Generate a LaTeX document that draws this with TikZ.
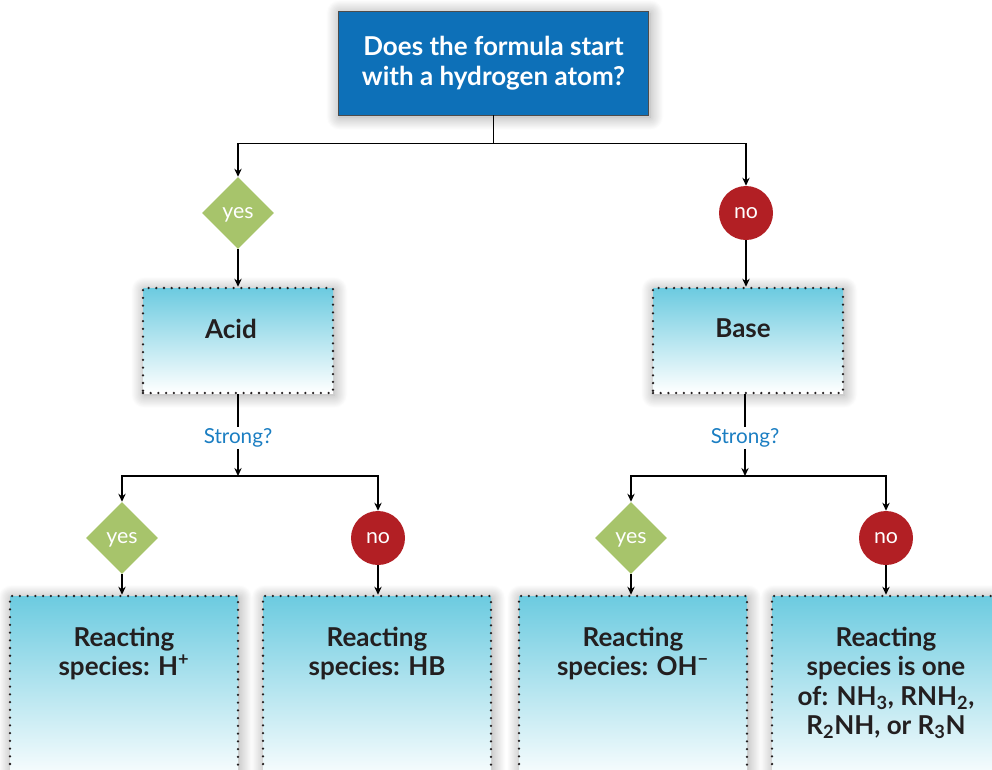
\documentclass[tikz,border=0pt]{standalone}
\usepackage{fontspec}
\setmainfont{Lato}
\usetikzlibrary{shapes, shapes.geometric, arrows.meta, calc, positioning, shadows.blur}
\definecolor{qblue}   {RGB}{ 13,112,184}
\definecolor{yesgreen}{RGB}{167,196,107}
\definecolor{nored}   {RGB}{178, 31, 36}
\definecolor{askblue} {RGB}{ 27,126,194}
\definecolor{boxcyan} {RGB}{108,203,224}
\definecolor{ink}     {RGB}{ 35, 31, 32}

\begin{document}
\begin{tikzpicture}[x=0.75pt, y=-0.75pt,
  soft/.style={blur shadow={shadow xshift=1pt, shadow yshift=-1.5pt,
    shadow blur radius=10pt, shadow blur steps=30, shadow opacity=38}},
  qbox/.style={rectangle, fill=qblue, draw=black!70, line width=0.6pt,
    minimum width=233pt, minimum height=78pt, align=center,
    font=\fontsize{19.5}{22.5}\selectfont\bfseries, text=white, soft},
  ansbox/.style={rectangle, top color=boxcyan, bottom color=white, draw=ink,
    line width=1.9pt, dash pattern=on 0pt off 5.8pt, line cap=round, soft},
  anstxt/.style={anchor=north, align=center, inner sep=0pt, text=ink,
    font=\fontsize{19.5}{22}\selectfont\bfseries},
  yes/.style={diamond, fill=yesgreen, minimum width=54pt, minimum height=54pt,
    inner sep=0pt, text depth=0pt, text=white, font=\fontsize{16}{18}\selectfont},
  no/.style={circle, fill=nored, minimum size=40.5pt, inner sep=0pt,
    text=white, font=\fontsize{16}{18}\selectfont},
  ask/.style={text=askblue, font=\fontsize{15.5}{17}\selectfont, inner sep=1pt},
  link/.style={line width=1.1pt, draw=black},
  arr/.style={link, -{Stealth[length=6pt, width=5.5pt]}},
]
\useasboundingbox (0,0) rectangle (992,769);
\clip (0,0) rectangle (992,769);

%% ── Question ────────────────────────────────────────────────────────────────
\node[qbox] (q) at (493.5, 63) {Does the formula start\\with a hydrogen atom?};
\coordinate (qsplit) at ($(q.south)+(0,28)$);

\node[yes] (yA) at (238, 213) {yes};
\node[no]  (nB) at (746, 213) {no};

%% ── Acid / Base ─────────────────────────────────────────────────────────────
\node[ansbox, minimum width=142.5pt, minimum height=78.75pt] (acid) at (238, 340.5) {};
\node[ansbox, minimum width=142.5pt, minimum height=78.75pt] (base) at (748, 340.5) {};
\node[anstxt] (acidt) at ($(acid.north)+(-7,32)$) {Acid};
\node[anstxt] (baset) at ($(base.north)+(-5,32)$) {Base};

\node[ask] (sA) at (238, 438) {Strong?};
\node[ask] (sB) at (745, 438) {Strong?};
\coordinate (asplit) at (238, 476);
\coordinate (bsplit) at (745, 476);

\node[yes] (yA1) at (122, 538) {yes};
\node[no]  (nA1) at (378, 538) {no};
\node[yes] (yB1) at (631, 538) {yes};
\node[no]  (nB1) at (886, 538) {no};

%% ── Reacting species ────────────────────────────────────────────────────────
\node[ansbox, minimum width=171pt, minimum height=141pt] (r1) at (124, 690) {};
\node[ansbox, minimum width=171pt, minimum height=141pt] (r2) at (377, 690) {};
\node[ansbox, minimum width=171pt, minimum height=141pt] (r3) at (633, 690) {};
\node[ansbox, minimum width=171pt, minimum height=141pt] (r4) at (886, 690) {};
\node[anstxt] (r1t) at ($(r1.north)+(0,32)$) {Reacting\\species: H\textsuperscript{+}};
\node[anstxt] (r2t) at ($(r2.north)+(0,32)$) {Reacting\\species: HB};
\node[anstxt] (r3t) at ($(r3.north)+(0,32)$) {Reacting\\species: OH\textsuperscript{−}};
\node[anstxt] (r4t) at ($(r4.north)+(0,32)$) {Reacting\\species is one\\of: NH\textsubscript{3}, RNH\textsubscript{2},\\R\textsubscript{2}NH, or R\textsubscript{3}N};

%% ── Connectors ──────────────────────────────────────────────────────────────
\draw[link] (q.south) -- (qsplit);
\draw[arr] (qsplit) -| (yA.north);
\draw[arr] (qsplit) -| (nB.north);
\draw[arr] (yA.south) -- (acid.north);
\draw[arr] (nB.south) -- (base.north -| nB.south);

\draw[link] (acid.south) -- (sA.north);
\draw[arr]  (sA.south) -- (asplit);
\draw[arr]  (asplit) -| (yA1.north);
\draw[arr]  (asplit) -| (nA1.north);
\draw[link] (base.south -| sB.north) -- (sB.north);
\draw[arr]  (sB.south) -- (bsplit);
\draw[arr]  (bsplit) -| (yB1.north);
\draw[arr]  (bsplit) -| (nB1.north);

\draw[arr] (yA1.south) -- (r1.north -| yA1.south);
\draw[arr] (nA1.south) -- (r2.north -| nA1.south);
\draw[arr] (yB1.south) -- (r3.north -| yB1.south);
\draw[arr] (nB1.south) -- (r4.north);
\end{tikzpicture}
\end{document}
